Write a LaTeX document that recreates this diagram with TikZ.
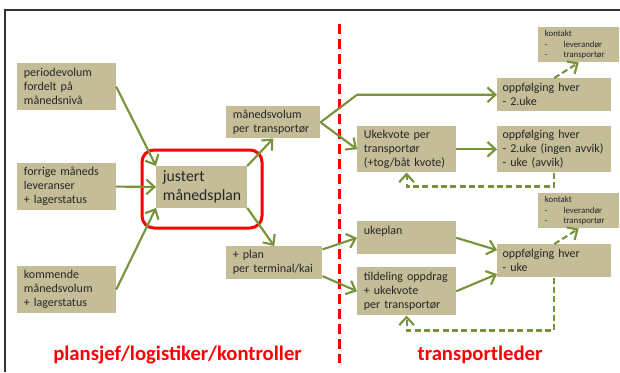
\documentclass[tikz,border=0pt]{standalone}
\usepackage{fontspec}
\setmainfont{Carlito}
\usepackage{tikz}
\usetikzlibrary{positioning, arrows.meta}
\usepackage{xcolor}
\definecolor{tanfill}{HTML}{C4BD97}
\definecolor{arrowgreen}{HTML}{77933C}
\definecolor{planred}{HTML}{FF0000}
\tikzset{
	tanbox/.style={anchor=north west, fill=tanfill, inner xsep=5pt, inner ysep=2pt, align=left, text=black!85, font=\fontsize{9}{10.5}\selectfont},
	smallbox/.style={tanbox, font=\fontsize{6.6}{7.6}\selectfont},
	flow/.style={draw=arrowgreen, line width=1.6pt, -{Straight Barb[length=6pt, width=11pt]}},
	feedback/.style={flow, dash pattern=on 4.5pt off 2.5pt},
	rolelabel/.style={anchor=base, text=planred, font=\fontsize{15.5}{18}\selectfont\bfseries},
}
\newcommand{\kontaktline}[1]{\makebox[14pt][l]{-}#1}
\begin{document}
\begin{tikzpicture}[x=0.75pt, y=-0.75pt]
			\useasboundingbox (0,0) rectangle (620,372);
			% Frame
			\draw[black!80, line width=0.8pt] (620,10) -- (5,10) -- (5,372);
			% Input boxes
			\node[tanbox, text width=64pt, minimum height=35pt] (periode) at (17,63) {periodevolum\\fordelt på\\månedsnivå};
			\node[tanbox, text width=64pt, minimum height=35pt] (forrige) at (17,163) {forrige måneds\\leveranser\\+ lagerstatus};
			\node[tanbox, text width=64pt, minimum height=35pt] (kommende) at (17,266) {kommende\\månedsvolum\\+ lagerstatus};
			% Month plan
			\node[tanbox, text width=58pt, minimum height=31pt, font=\fontsize{11.8}{14.3}\selectfont] (justert) at (156,166) {justert\\månedsplan};
			\draw[planred, line width=2.25pt, rounded corners=9pt] (142,150) rectangle (262,228);
			\node[tanbox, text width=60.5pt, minimum height=24pt] (maanedsvolum) at (226,106) {månedsvolum\\per transportør};
			\node[tanbox, text width=62pt, minimum height=24.75pt] (plan) at (226,246) {+ plan\\per terminal/kai};
			% Divider
			\draw[planred, line width=2.25pt, dash pattern=on 7.5pt off 3.75pt] (339,24) -- (339,363);
			% Weekly quota branch
			\node[tanbox, text width=64pt, minimum height=34.5pt] (ukekvote) at (357,126) {Ukekvote per\\transportør\\(+tog/båt kvote)};
			\node[tanbox, text width=77.5pt, inner xsep=4pt, minimum height=24.75pt] (oppf2) at (497,78) {oppfølging hver\\- 2.uke};
			\node[tanbox, text width=77.5pt, inner xsep=4pt, minimum height=34.5pt] (oppfavvik) at (497,126) {oppfølging hver\\- 2.uke (ingen avvik)\\- uke (avvik)};
			\node[smallbox, text width=50.75pt, minimum height=26.25pt] (kontakt1) at (538,27) {kontakt\\\kontaktline{leverandør}\\\kontaktline{transportør}};
			% Weekly plan branch
			\node[tanbox, text width=64pt, minimum height=24.75pt] (ukeplan) at (357,221) {ukeplan\\~};
			\node[tanbox, text width=64pt, minimum height=36pt] (tildeling) at (357,267) {tildeling oppdrag\\+ ukekvote\\per transportør};
			\node[tanbox, text width=77.5pt, inner xsep=4pt, minimum height=24.75pt] (oppfuke) at (497,244) {oppfølging hver\\- uke};
			\node[smallbox, text width=50.75pt, minimum height=26.25pt] (kontakt2) at (538,193) {kontakt\\\kontaktline{leverandør}\\\kontaktline{transportør}};
			% Arrows into the month plan
			\draw[flow] (periode.east) -- (justert.north west);
			\draw[flow] (forrige.east) -- (justert.west);
			\draw[flow] (kommende.east) -- (justert.south west);
			\draw[flow] (justert.north east) -- (maanedsvolum.south);
			\draw[flow] (justert.south east) -- (plan.north);
			% Arrows to the right
			\draw[flow] (maanedsvolum.east) -- (ukekvote.north west |- oppf2.west) -- (oppf2.west);
			\draw[flow] (maanedsvolum.east) -- (ukekvote.west);
			\draw[flow] (ukekvote.east) -- (oppfavvik.west);
			\draw[flow] ([yshift=10pt]plan.east) -- (ukeplan.west);
			\draw[flow] ([yshift=-10pt]plan.east) -- (tildeling.west);
			\draw[flow] (ukeplan.east) -- ([yshift=8pt]oppfuke.west);
			\draw[flow] (tildeling.east) -- ([yshift=-10pt]oppfuke.west);
			% Dashed follow-up
			\draw[feedback] (oppf2.north) -- (kontakt1.south);
			\draw[feedback] (oppfuke.north) -- (kontakt2.south);
			\draw[feedback] (oppfavvik.south) -- ++(0,14) -| (ukekvote.south);
			\draw[feedback] (oppfuke.south) -- ++(0,53) -| (tildeling.south);
			% Role labels
			\node[rolelabel] (plansjef) at (177.5,360) {plansjef/logistiker/kontroller};
			\node[rolelabel] (transportleder) at (480,360) {transportleder};
\end{tikzpicture}
\end{document}
